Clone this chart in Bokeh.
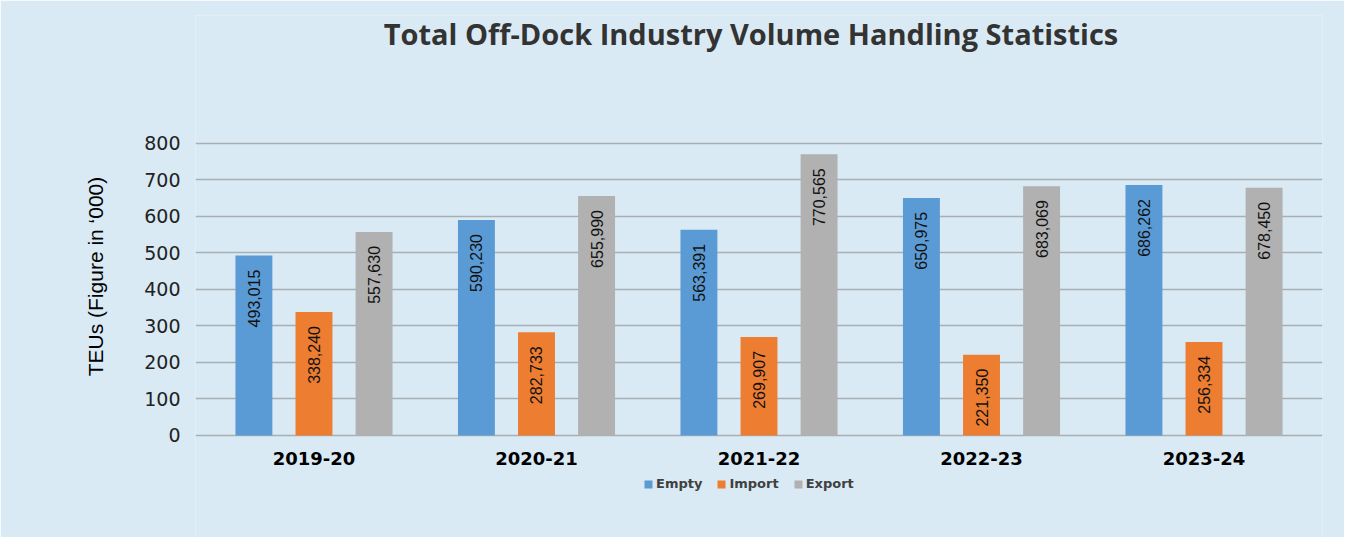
import math
from bokeh.plotting import figure
from bokeh.models import (ColumnDataSource, FactorRange, Range1d, Legend, LegendItem,
                          Label, FixedTicker)
from bokeh.transform import dodge
from bokeh.core.properties import value
from bokeh.embed import file_html
from bokeh.resources import INLINE

categories = ["2019-20", "2020-21", "2021-22", "2022-23", "2023-24"]
empty = [493015, 590230, 563391, 650975, 686262]
imports = [338240, 282733, 269907, 221350, 256334]
exports = [557630, 655990, 770565, 683069, 678450]
series_names = ["Empty", "Import", "Export"]
colors = ["#5B9BD5", "#ED7D31", "#B1B1B1"]
y_ticks = [0, 100, 200, 300, 400, 500, 600, 700, 800]
title_text = "Total Off-Dock Industry Volume Handling Statistics"
y_label = "TEUs (Figure in \u2018000)"

BG = "#DAEAF4"
GRID = "#A9AEB2"

src = ColumnDataSource(dict(
    cat=categories,
    empty=[v / 1000 for v in empty],
    imp=[v / 1000 for v in imports],
    exp=[v / 1000 for v in exports],
    empty_lbl=[f"{v:,}" for v in empty],
    imp_lbl=[f"{v:,}" for v in imports],
    exp_lbl=[f"{v:,}" for v in exports],
    cat_y=[-62.0] * len(categories),
))

p = figure(width=1344, height=537, output_backend="svg", toolbar_location=None,
           x_range=FactorRange(factors=categories, range_padding=0.013),
           y_range=Range1d(-279.5, 1150.7),
           min_border_left=195, min_border_right=22, min_border_top=15, min_border_bottom=0)
p.background_fill_color = BG
p.border_fill_color = BG
p.outline_line_color = None

offsets = [-0.27, 0.0, 0.27]
cols = ["empty", "imp", "exp"]
renderers = []
for off, col, c in zip(offsets, cols, colors):
    r = p.vbar(x=dodge("cat", off, range=p.x_range), top=col, width=0.166, source=src,
               fill_color=c, line_color=None)
    renderers.append(r)
    p.text(x=dodge("cat", off, range=p.x_range), y=col, text=col + "_lbl", source=src,
           angle=math.pi / 2, text_align="right", text_baseline="middle",
           y_offset=14, text_font_size="16px", text_color="#111111",
           text_font=value("Liberation Sans"))

# category labels
p.text(x="cat", y="cat_y", text="cat", source=src, text_align="center",
       text_baseline="middle", text_font=value("DejaVu Sans"), text_font_style="bold",
       text_font_size="18px", text_color="#000000")

p.xaxis.visible = False

p.yaxis.ticker = FixedTicker(ticks=y_ticks)
p.yaxis.axis_line_color = None
p.yaxis.major_tick_line_color = None
p.yaxis.minor_tick_line_color = None
p.yaxis.major_tick_out = 0
p.yaxis.major_tick_in = 0
p.yaxis.major_label_text_font = "DejaVu Sans"
p.yaxis.major_label_text_font_size = "19px"
p.yaxis.major_label_text_color = "#222222"
p.yaxis.major_label_standoff = 15
p.yaxis.axis_label = y_label
p.yaxis.axis_label_text_font = "Liberation Sans"
p.yaxis.axis_label_text_font_style = "normal"
p.yaxis.axis_label_text_font_size = "21px"
p.yaxis.axis_label_text_color = "#000000"
p.yaxis.axis_label_standoff = 34

p.xgrid.grid_line_color = None
p.ygrid.grid_line_color = GRID
p.ygrid.grid_line_width = 1.5

# title
p.add_layout(Label(x=2.464, y=1102, text=title_text, text_align="center",
                   text_baseline="middle", text_font="Open Sans", text_font_style="bold",
                   text_font_size="29px", text_color="#333333"))

legend = Legend(items=[LegendItem(label=n, renderers=[r]) for n, r in zip(series_names, renderers)],
                orientation="horizontal", location=(448, 46),
                glyph_width=10, glyph_height=10, label_standoff=3, spacing=14,
                padding=0, margin=0, border_line_color=None, background_fill_alpha=0,
                label_text_font="DejaVu Sans", label_text_font_style="bold",
                label_text_font_size="13px", label_text_color="#404040")
p.add_layout(legend, "center")

open("out.html", "w").write(file_html(p, INLINE))
